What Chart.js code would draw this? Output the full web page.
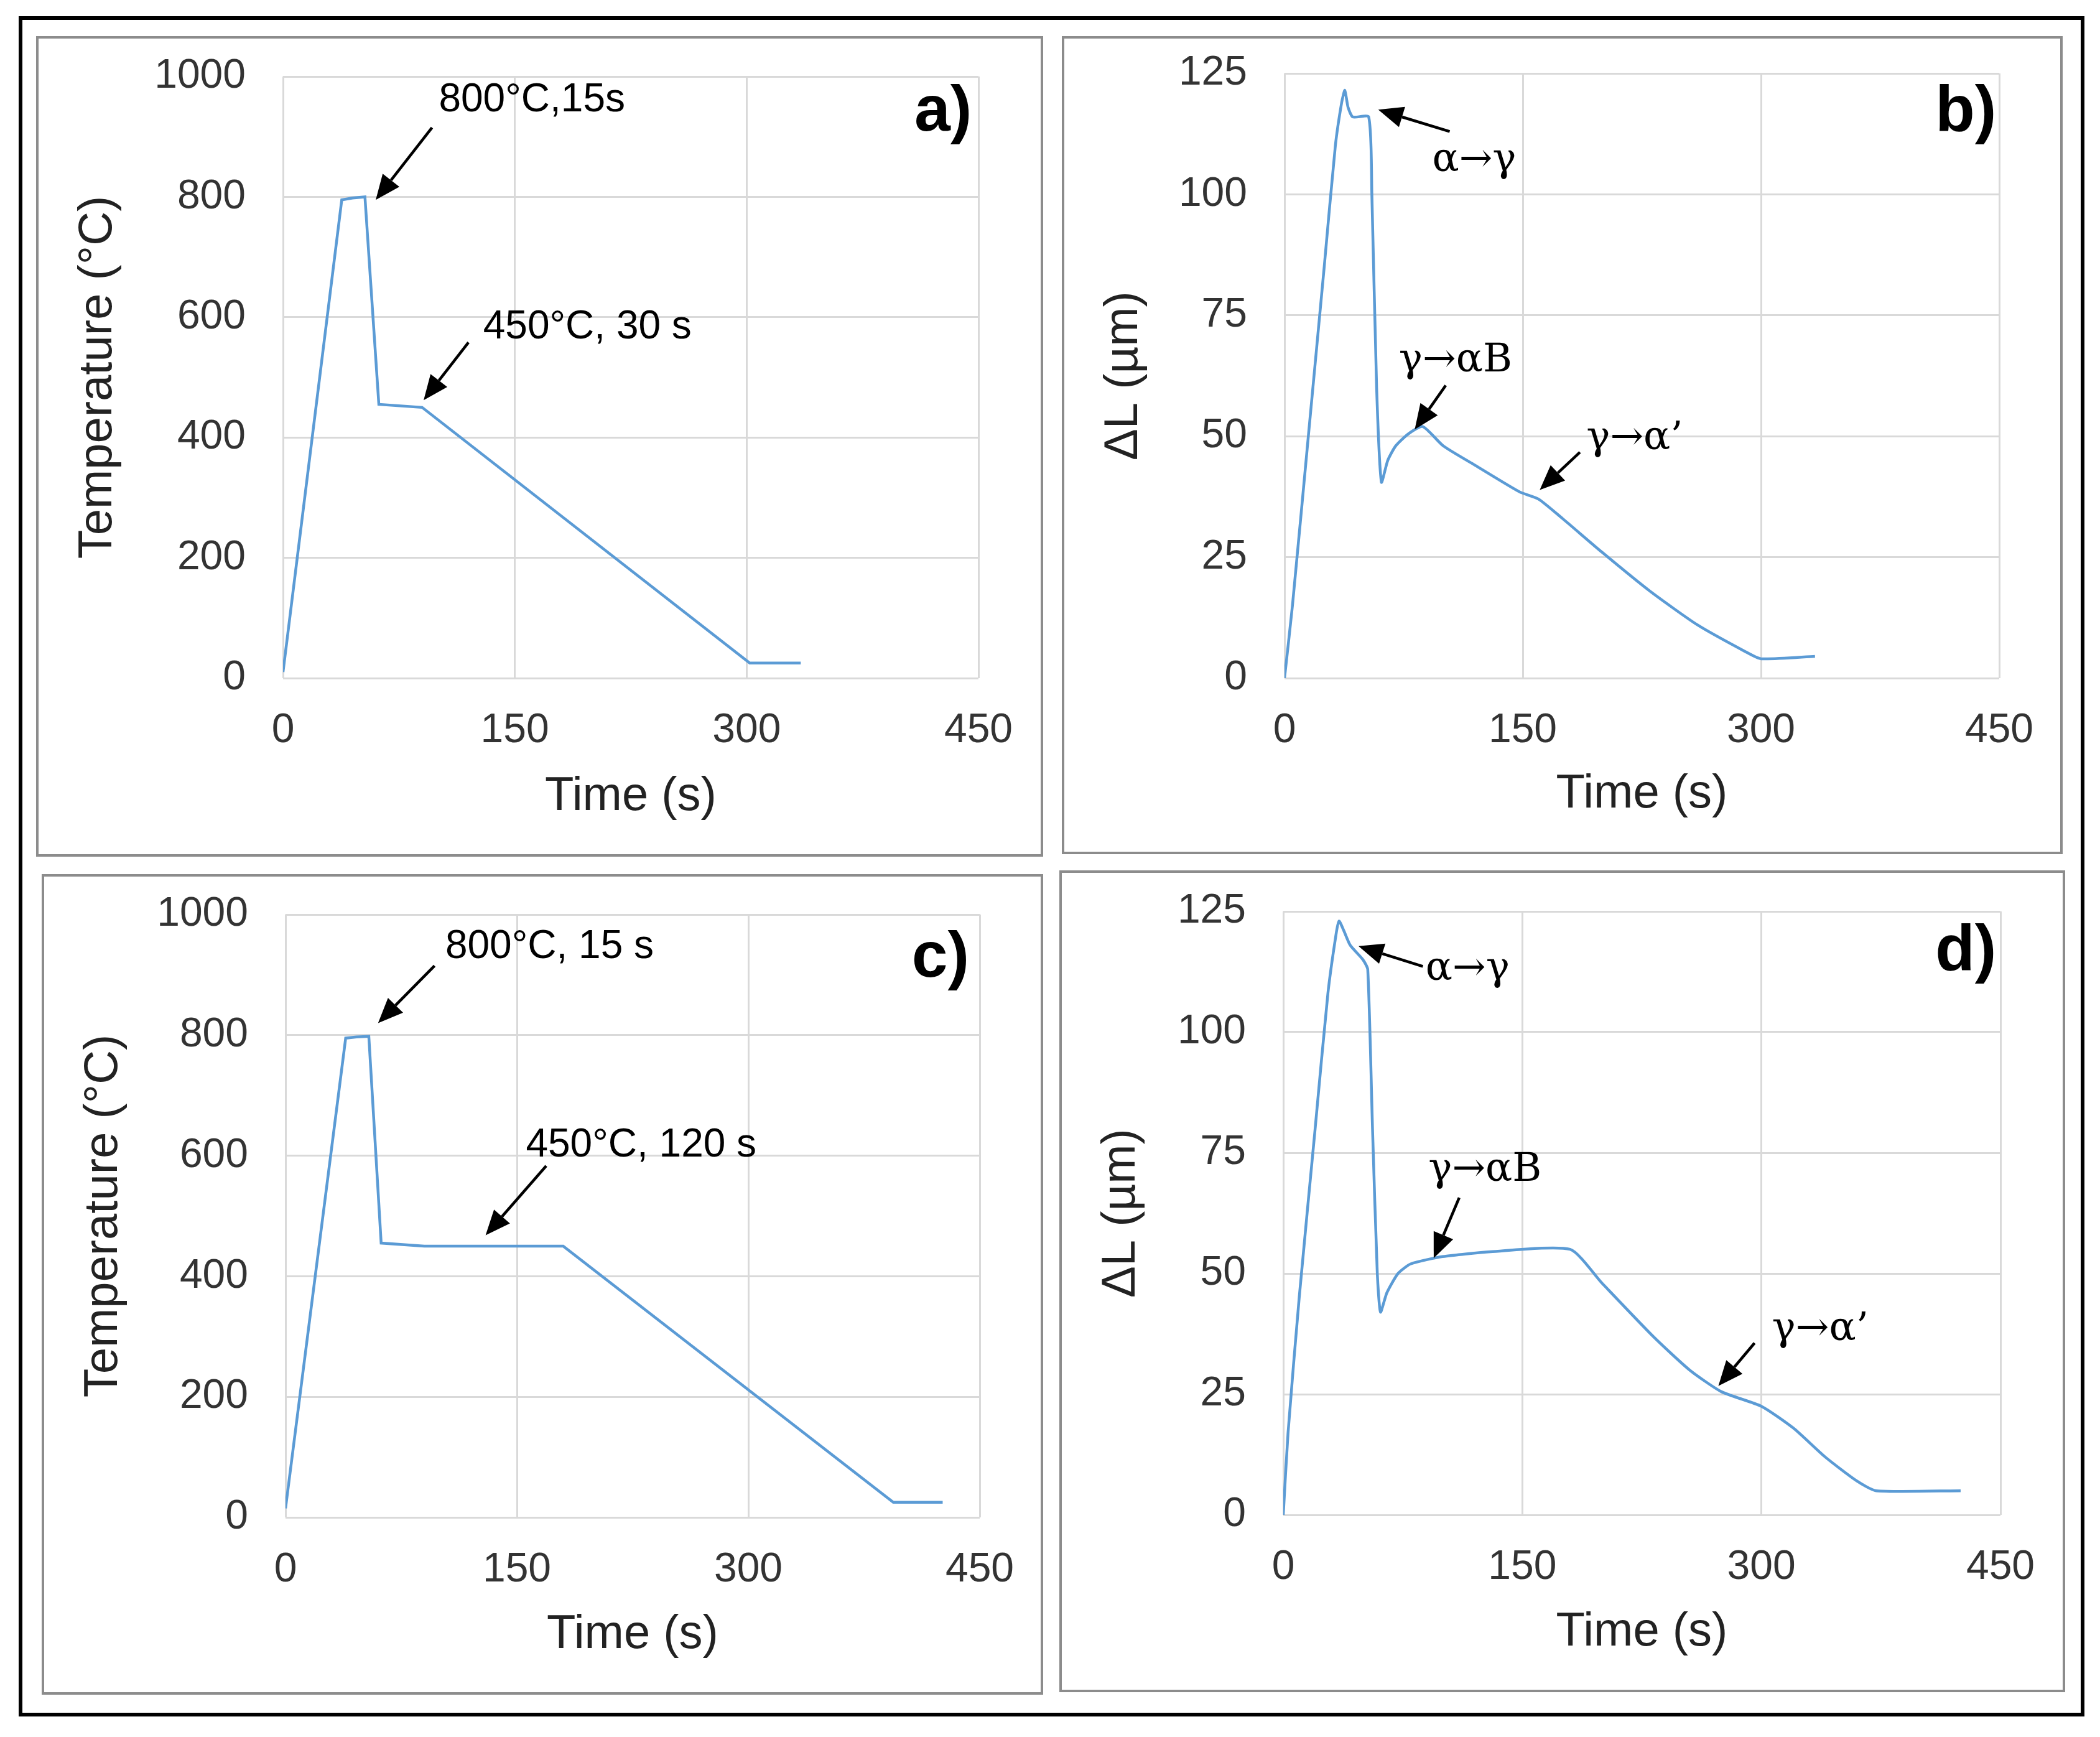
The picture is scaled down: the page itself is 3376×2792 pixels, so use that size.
<!DOCTYPE html>
<html><head><meta charset="utf-8">
<script src="https://cdn.jsdelivr.net/npm/chart.js@4/dist/chart.umd.min.js"></script>
<style>
body{margin:0;background:#fff;width:3376px;height:2792px;position:relative;overflow:hidden;font-family:"Liberation Sans",Arial,sans-serif}
#frame{position:absolute;left:30px;top:26px;width:3309px;height:2721px;border:6px solid #000}
.panel{position:absolute;border:4px solid #8c8c8c;box-sizing:border-box}
canvas{position:absolute;left:0;top:0}
</style></head><body>
<div id="frame"></div>
<script>
const S = 3376/1564;
// Data
const timeA = [0,38,45,53,62,90,302,335];
const tempA = [10,795,798,800,455,450,25,25];
const timeB = [0,5,15,25,32,36,38,40,43,53,55,58,61,65,70,78,87,100,120,148,160,175,200,230,260,290,300,334];
const dlB   = [0,15,50,85,110,119,121.5,118,116,116,100,60,40.5,45,48,50.5,52,48,44,38.5,37,33,26,18,11,5.5,4,4.5];
const timeC = [0,39,46,54,62,90,180,394,426];
const tempC = [15,795,797,798,455,450,450,25,25];
const timeD = [0,3,10,20,28,33,35,38,42,50,53,56,59,61,65,72,80,100,130,180,200,232,255,275,300,320,340,360,372,425];
const dlD   = [0,17,45,80,108,120,123,121,118,115,113,80,50,42,46,50,52,53.5,54.5,55,48,37,30,25.5,22.5,18,12,7,5,5];
const xTicks = [0,150,300,450];

const SANS='"Liberation Sans", Arial, sans-serif', SERIF='"DejaVu Serif", "Liberation Serif", serif';
const panels = [
 {box:[27,27,777,638], plot:[209,55,727,503], t:timeA, v:tempA, tension:0, ymax:1000, ystep:200, ytitle:'Temperature (°C)', label:'a)', lab:[722,82],
  notes:[{text:'800°C,15s',f:SANS,at:[100.8,960],from:[96.4,915],to:[60,795]},{text:'450°C, 30 s',f:SANS,at:[129.5,583],from:[120,558],to:[91,462]}]},
 {box:[791,27,1536,636], plot:[955,53,1487,503], t:timeB, v:dlB, tension:0.2, ymax:125, ystep:25, ytitle:'ΔL (µm)', label:'b)', lab:[1485,82],
  notes:[{text:'α→γ',f:SERIF,at:[93,107],from:[104,113],to:[59,117.5]},{text:'γ→αB',f:SERIF,at:[72,65.5],from:[101.5,60.5],to:[82,51.4]},{text:'γ→α’',f:SERIF,at:[190,49.4],from:[186,46.7],to:[160.7,38.9]}]},
 {box:[31,651,777,1262], plot:[211,679,728,1128], t:timeC, v:tempC, tension:0, ymax:1000, ystep:200, ytitle:'Temperature (°C)', label:'c)', lab:[720,712],
  notes:[{text:'800°C, 15 s',f:SANS,at:[103.6,946],from:[96.6,915],to:[60,820]},{text:'450°C, 120 s',f:SANS,at:[155.8,617],from:[169,583],to:[129.7,468]}]},
 {box:[789,648,1538,1260], plot:[954,677,1488,1126], t:timeD, v:dlD, tension:0.2, ymax:125, ystep:25, ytitle:'ΔL (µm)', label:'d)', lab:[1485,707],
  notes:[{text:'α→γ',f:SERIF,at:[89.3,113],from:[87.6,113.6],to:[47.2,117.8]},{text:'γ→αB',f:SERIF,at:[91,71.3],from:[110.4,65.7],to:[94.4,53.2]},{text:'γ→α’',f:SERIF,at:[306.6,38.4],from:[295.7,35.6],to:[273,26.7]}]},
];

panels.forEach(p=>{
  const bx=p.box.map(v=>Math.round(v*S)), pl=p.plot.map(v=>Math.round(v*S));
  const W=bx[2]-bx[0], H=bx[3]-bx[1];
  const div=document.createElement('div'); div.className='panel';
  Object.assign(div.style,{left:bx[0]+'px',top:bx[1]+'px',width:W+'px',height:H+'px'});
  const cv=document.createElement('canvas'); cv.width=W; cv.height=H;
  cv.style.width=W+'px'; cv.style.height=H+'px';
  div.appendChild(cv); document.body.appendChild(div);
  const yw=pl[0]-bx[0], xh=bx[3]-pl[3];
  const annot={id:'annot',afterDatasetsDraw(c){
    const ctx=c.ctx, xs=c.scales.x, ys=c.scales.y;
    ctx.save();
    ctx.fillStyle='#000'; ctx.strokeStyle='#000'; ctx.lineWidth=4.5;
    ctx.textBaseline='middle'; ctx.textAlign='left';
    p.notes.forEach(n=>{
      ctx.font='64px '+n.f;
      ctx.fillText(n.text, xs.getPixelForValue(n.at[0]), ys.getPixelForValue(n.at[1]));
      const x1=xs.getPixelForValue(n.from[0]), y1=ys.getPixelForValue(n.from[1]);
      const x2=xs.getPixelForValue(n.to[0]), y2=ys.getPixelForValue(n.to[1]);
      const a=Math.atan2(y2-y1,x2-x1), L=40, w=17;
      const bxp=x2-L*Math.cos(a), byp=y2-L*Math.sin(a);
      ctx.beginPath(); ctx.moveTo(x1,y1); ctx.lineTo(bxp,byp); ctx.stroke();
      ctx.beginPath(); ctx.moveTo(x2,y2);
      ctx.lineTo(bxp+w*Math.sin(a), byp-w*Math.cos(a));
      ctx.lineTo(bxp-w*Math.sin(a), byp+w*Math.cos(a)); ctx.closePath(); ctx.fill();
    });
    ctx.font='bold 104px '+SANS; ctx.textAlign='right';
    ctx.fillText(p.label, p.lab[0]*S-bx[0], p.lab[1]*S-bx[1]);
    ctx.restore();
  }};
  new Chart(cv,{type:'line',
    data:{datasets:[{data:p.t.map((t,i)=>({x:t,y:p.v[i]})),borderColor:'#5b9bd5',borderWidth:4.5,pointRadius:0,tension:p.tension,fill:false}]},
    options:{responsive:false,animation:false,events:[],
      layout:{padding:{left:0,right:bx[2]-pl[2],top:pl[1]-bx[1],bottom:0}},
      plugins:{legend:{display:false},tooltip:{enabled:false}},
      scales:{
        x:{type:'linear',min:0,max:450,afterBuildTicks:a=>{a.ticks=xTicks.map(v=>({value:v}));},
          afterFit:a=>{a.height=xh;a.paddingLeft=0;a.paddingRight=0;},
          grid:{color:'#d9d9d9',lineWidth:3,drawTicks:false},border:{display:false},
          ticks:{color:'#333',font:{size:66,family:SANS},padding:45,maxRotation:0,callback:v=>String(v)},
          title:{display:true,text:'Time (s)',color:'#222',font:{size:76,family:SANS},padding:{top:0,bottom:54}}},
        y:{type:'linear',min:0,max:p.ymax,ticks:{stepSize:p.ystep,color:'#333',font:{size:66,family:SANS},padding:60,callback:v=>String(v)},
          afterFit:a=>{a.width=yw;a.paddingTop=0;a.paddingBottom=0;},
          grid:{color:'#d9d9d9',lineWidth:3,drawTicks:false},border:{display:false},
          title:{display:true,text:p.ytitle,color:'#222',font:{size:76,family:SANS},padding:{top:50,bottom:0}}}
      }},
    plugins:[annot]});
});
</script></body></html>
